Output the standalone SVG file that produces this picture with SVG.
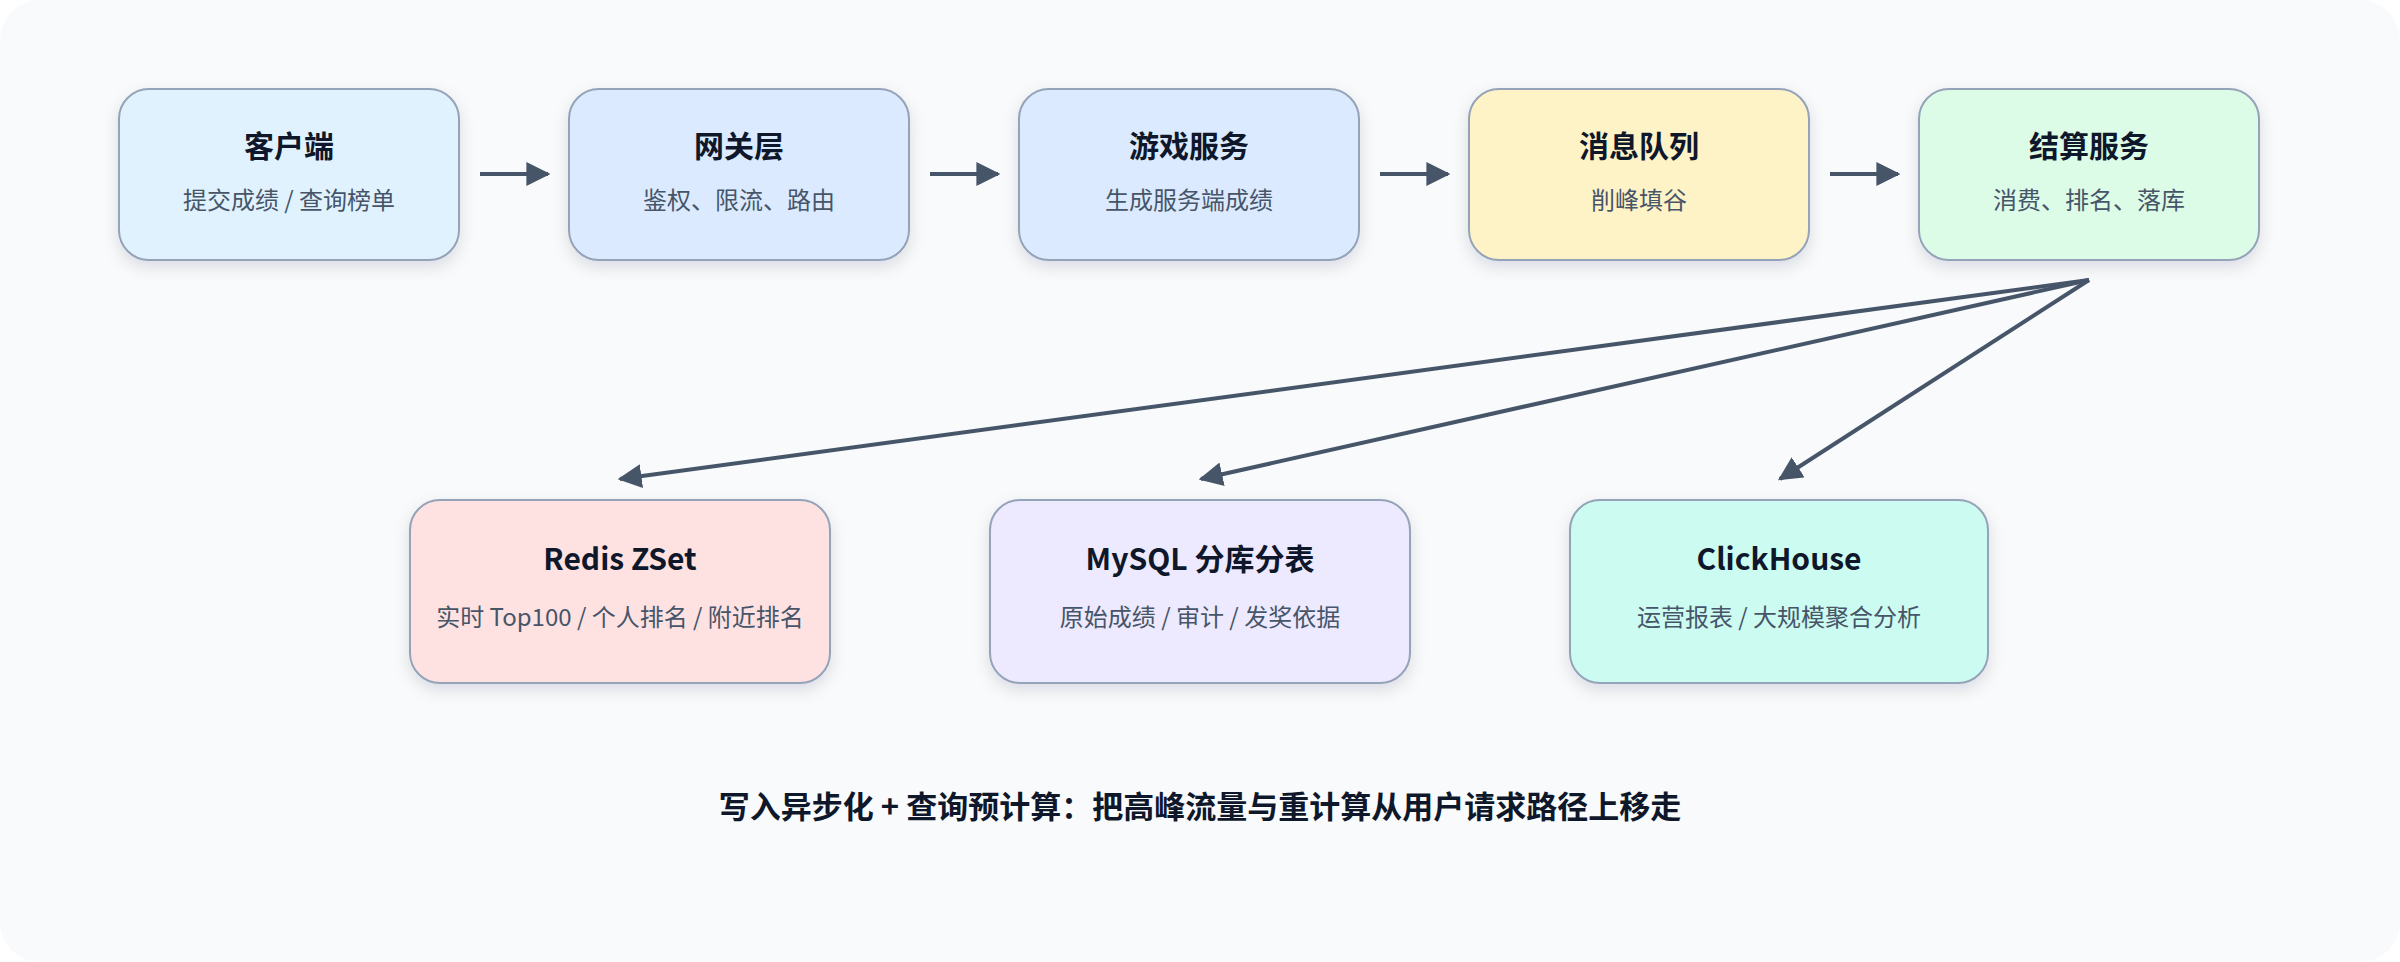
<svg xmlns="http://www.w3.org/2000/svg" width="2400" height="962" viewBox="0 0 2400 962">
<defs>
<filter id="sh" x="-20%" y="-20%" width="140%" height="150%"><feDropShadow dx="0" dy="6" stdDeviation="8" flood-color="#0f172a" flood-opacity="0.12"/></filter>
<marker id="ah" viewBox="0 0 10 10" refX="9" refY="5" markerWidth="6" markerHeight="6" markerUnits="strokeWidth" orient="auto"><path d="M0,0 L10,5 L0,10 z" fill="#475569"/></marker>
<style>
.n{stroke:#94a3b8;stroke-width:2;filter:url(#sh)}
.t{font-family:"Noto Sans CJK SC","Liberation Sans",sans-serif;font-size:30px;font-weight:700;fill:#0f172a;text-anchor:middle}
.s{font-family:"Noto Sans CJK SC","Liberation Sans",sans-serif;font-size:24px;fill:#475569;text-anchor:middle}
.c{stroke:#475569;stroke-width:4;fill:none;marker-end:url(#ah)}
</style>
</defs>
<rect x="0" y="0" width="2400" height="962" rx="40" fill="#f8fafc"/>
<g id="client"><rect class="n" x="119" y="89" width="340" height="171" rx="30" fill="#e0f2fe"/><text class="t" x="289" y="157">客户端</text><text class="s" x="289" y="209">提交成绩 / 查询榜单</text></g>
<g id="gateway"><rect class="n" x="569" y="89" width="340" height="171" rx="30" fill="#dbeafe"/><text class="t" x="739" y="157">网关层</text><text class="s" x="739" y="209">鉴权、限流、路由</text></g>
<g id="game"><rect class="n" x="1019" y="89" width="340" height="171" rx="30" fill="#dbeafe"/><text class="t" x="1189" y="157">游戏服务</text><text class="s" x="1189" y="209">生成服务端成绩</text></g>
<g id="mq"><rect class="n" x="1469" y="89" width="340" height="171" rx="30" fill="#fef3c7"/><text class="t" x="1639" y="157">消息队列</text><text class="s" x="1639" y="209">削峰填谷</text></g>
<g id="settle"><rect class="n" x="1919" y="89" width="340" height="171" rx="30" fill="#dcfce7"/><text class="t" x="2089" y="157">结算服务</text><text class="s" x="2089" y="209">消费、排名、落库</text></g>
<g id="redis"><rect class="n" x="410" y="500" width="420" height="183" rx="30" fill="#fee2e2"/><text class="t" x="620" y="570">Redis ZSet</text><text class="s" x="620" y="626">实时 Top100 / 个人排名 / 附近排名</text></g>
<g id="mysql"><rect class="n" x="990" y="500" width="420" height="183" rx="30" fill="#ede9fe"/><text class="t" x="1200" y="570">MySQL 分库分表</text><text class="s" x="1200" y="626">原始成绩 / 审计 / 发奖依据</text></g>
<g id="clickhouse"><rect class="n" x="1570" y="500" width="418" height="183" rx="30" fill="#ccfbf1"/><text class="t" x="1779" y="570">ClickHouse</text><text class="s" x="1779" y="626">运营报表 / 大规模聚合分析</text></g>
<g id="connectors">
<line class="c" x1="480" y1="174" x2="548" y2="174"/>
<line class="c" x1="930" y1="174" x2="998" y2="174"/>
<line class="c" x1="1380" y1="174" x2="1448" y2="174"/>
<line class="c" x1="1830" y1="174" x2="1898" y2="174"/>
<line class="c" x1="2089" y1="280" x2="620" y2="479"/>
<line class="c" x1="2089" y1="280" x2="1201" y2="479"/>
<line class="c" x1="2089" y1="280" x2="1780" y2="479"/>
</g>
<text x="1200" y="818" style="font-family:'Noto Sans CJK SC','Liberation Sans',sans-serif;font-size:31px;font-weight:700;fill:#0f172a;text-anchor:middle">写入异步化 + 查询预计算：把高峰流量与重计算从用户请求路径上移走</text>
</svg>
